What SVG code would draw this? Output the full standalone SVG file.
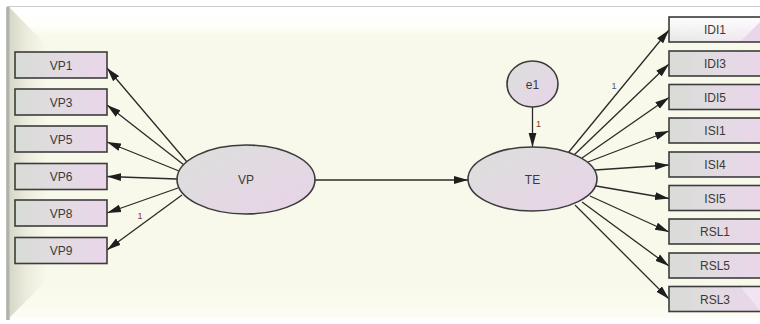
<svg xmlns="http://www.w3.org/2000/svg" width="760" height="324" viewBox="0 0 760 324">
  <defs>
    <linearGradient id="boxFill" x1="0" y1="0" x2="1" y2="0">
      <stop offset="0" stop-color="#d8dcd6"/>
      <stop offset="0.5" stop-color="#e2dbe2"/>
      <stop offset="1" stop-color="#ead6ea"/>
    </linearGradient>
    <linearGradient id="ovalFill" x1="0" y1="0" x2="1" y2="1">
      <stop offset="0" stop-color="#dcdfdb"/>
      <stop offset="0.55" stop-color="#e3d9e3"/>
      <stop offset="1" stop-color="#e8d3e8"/>
    </linearGradient>
    <linearGradient id="bevelTop" x1="0" y1="7" x2="0" y2="47" gradientUnits="userSpaceOnUse">
      <stop offset="0" stop-color="#ffffff"/>
      <stop offset="0.5" stop-color="#fefefa"/>
      <stop offset="0.72" stop-color="#f8f9eb"/>
      <stop offset="1" stop-color="#f8f9eb"/>
    </linearGradient>
    <linearGradient id="bevelLeft" x1="9" y1="0" x2="48" y2="0" gradientUnits="userSpaceOnUse">
      <stop offset="0" stop-color="#d6d6c6"/>
      <stop offset="0.45" stop-color="#ebecdd"/>
      <stop offset="1" stop-color="#f8f9eb"/>
    </linearGradient>
    <linearGradient id="bevelBottom" x1="0" y1="279" x2="0" y2="318" gradientUnits="userSpaceOnUse">
      <stop offset="0" stop-color="#f8f9eb"/>
      <stop offset="0.6" stop-color="#fafbee"/>
      <stop offset="1" stop-color="#fdfdf4"/>
    </linearGradient>
    <linearGradient id="edgeShade" x1="6" y1="0" x2="10" y2="0" gradientUnits="userSpaceOnUse">
      <stop offset="0" stop-color="#c4c4c0"/>
      <stop offset="0.5" stop-color="#a9a9a4"/>
      <stop offset="1" stop-color="#cfcfc6"/>
    </linearGradient>
    <linearGradient id="glossTop" x1="0" y1="17" x2="0" y2="42" gradientUnits="userSpaceOnUse">
      <stop offset="0" stop-color="#ffffff" stop-opacity="0.95"/>
      <stop offset="1" stop-color="#ffffff" stop-opacity="0.35"/>
    </linearGradient>
    <clipPath id="clipTopCorner">
      <polygon points="600,0 782,0 740,42 600,42"/>
    </clipPath>
    <marker id="head" markerUnits="userSpaceOnUse" markerWidth="15" markerHeight="9" refX="14" refY="4.5" orient="auto">
      <path d="M0,0.6 L14,4.5 L0,8.4 Z" fill="#1e1e1e"/>
    </marker>
    <style>
      .box { fill: url(#boxFill); stroke: #3c3c3c; stroke-width: 1.6; }
      .oval { fill: url(#ovalFill); stroke: #3c3c3c; stroke-width: 1.6; }
      .lbl { font-family: "Liberation Sans", Arial, sans-serif; font-size: 12px; fill: #3a3a3a; text-anchor: middle; }
      .wt { font-family: "Liberation Sans", Arial, sans-serif; font-size: 9px; text-anchor: middle; }
      .edge { fill: none; stroke: #2a2a2a; stroke-width: 1.3; marker-end: url(#head); }
    </style>
  </defs>

  <!-- frame and bevelled panel -->
  <rect x="0" y="0" width="760" height="324" fill="#ffffff"/>
  <rect x="8" y="7" width="752" height="311" fill="#f8f9eb"/>
  <polygon points="9,7 775,7 735,47 48,47" fill="url(#bevelTop)"/>
  <polygon points="9,318 48,279 733,279 772,318" fill="url(#bevelBottom)"/>
  <polygon points="9,7 48,47 48,279 9,318" fill="url(#bevelLeft)"/>
  <line x1="7" y1="6.5" x2="760" y2="6.5" stroke="#cdcdcd" stroke-width="1"/>
  <rect x="6" y="7" width="4" height="313" fill="url(#edgeShade)"/>

  <!-- connectors -->
  <g id="connectors">
    <line class="edge" x1="187" y1="162" x2="107" y2="68"/>
    <line class="edge" x1="184" y1="165" x2="107" y2="105"/>
    <line class="edge" x1="179" y1="171" x2="107" y2="142"/>
    <line class="edge" x1="177" y1="179" x2="107" y2="176.5"/>
    <line class="edge" x1="178" y1="188" x2="107" y2="213"/>
    <line class="edge" x1="182" y1="195" x2="107" y2="250"/>
    <line class="edge" x1="315" y1="180" x2="468" y2="180"/>
    <line class="edge" x1="532.5" y1="107" x2="532.5" y2="147"/>
    <line class="edge" x1="568" y1="153" x2="669" y2="30"/>
    <line class="edge" x1="574" y1="155" x2="669" y2="64"/>
    <line class="edge" x1="582" y1="158" x2="669" y2="97.5"/>
    <line class="edge" x1="588" y1="162" x2="669" y2="131"/>
    <line class="edge" x1="595" y1="170" x2="669" y2="165"/>
    <line class="edge" x1="596" y1="186" x2="669" y2="198.5"/>
    <line class="edge" x1="590" y1="196" x2="669" y2="232"/>
    <line class="edge" x1="582" y1="202" x2="669" y2="266"/>
    <line class="edge" x1="575" y1="205" x2="669" y2="299"/>
    <text class="wt" x="140" y="218.5" fill="#7a3838">1</text>
    <text class="wt" x="538.5" y="126.5" fill="#7a3838">1</text>
    <text class="wt" x="614" y="88.5" fill="#4a5578">1</text>
  </g>

  <!-- latent variables -->
  <g id="VP">
    <ellipse class="oval" cx="246" cy="179.5" rx="69" ry="34.5"/>
    <text class="lbl" x="246" y="184">VP</text>
  </g>
  <g id="TE">
    <ellipse class="oval" cx="532.5" cy="179" rx="64.5" ry="32"/>
    <text class="lbl" x="532.5" y="183.5">TE</text>
  </g>
  <g id="e1">
    <ellipse class="oval" cx="532.5" cy="84" rx="25.5" ry="23"/>
    <text class="lbl" x="532.5" y="88.5">e1</text>
  </g>

  <!-- observed indicators of VP -->
  <g id="VP1"><rect class="box" x="15" y="52" width="92" height="26"/><text class="lbl" x="61" y="69.5">VP1</text></g>
  <g id="VP3"><rect class="box" x="15" y="89" width="92" height="26"/><text class="lbl" x="61" y="106.5">VP3</text></g>
  <g id="VP5"><rect class="box" x="15" y="126" width="92" height="26"/><text class="lbl" x="61" y="143.5">VP5</text></g>
  <g id="VP6"><rect class="box" x="15" y="163.5" width="92" height="26"/><text class="lbl" x="61" y="181">VP6</text></g>
  <g id="VP8"><rect class="box" x="15" y="200" width="92" height="26"/><text class="lbl" x="61" y="217.5">VP8</text></g>
  <g id="VP9"><rect class="box" x="15" y="237.5" width="92" height="26"/><text class="lbl" x="61" y="255">VP9</text></g>

  <!-- observed indicators of TE -->
  <g id="IDI1">
    <rect class="box" x="669" y="17" width="92" height="25"/>
    <rect x="670" y="18" width="90" height="23" fill="url(#glossTop)" clip-path="url(#clipTopCorner)"/>
    <text class="lbl" x="715" y="34">IDI1</text>
  </g>
  <g id="IDI3"><rect class="box" x="669" y="51" width="92" height="25"/><text class="lbl" x="715" y="68">IDI3</text></g>
  <g id="IDI5"><rect class="box" x="669" y="84.5" width="92" height="25"/><text class="lbl" x="715" y="101.5">IDI5</text></g>
  <g id="ISI1"><rect class="box" x="669" y="118" width="92" height="25"/><text class="lbl" x="715" y="135">ISI1</text></g>
  <g id="ISI4"><rect class="box" x="669" y="152" width="92" height="25"/><text class="lbl" x="715" y="169">ISI4</text></g>
  <g id="ISI5"><rect class="box" x="669" y="185.5" width="92" height="25"/><text class="lbl" x="715" y="202.5">ISI5</text></g>
  <g id="RSL1"><rect class="box" x="669" y="219" width="92" height="25"/><text class="lbl" x="715" y="236">RSL1</text></g>
  <g id="RSL5"><rect class="box" x="669" y="253" width="92" height="25"/><text class="lbl" x="715" y="270">RSL5</text></g>
  <g id="RSL3">
    <rect class="box" x="669" y="286.5" width="92" height="25"/>
    <polygon points="741,287.5 760,287.5 760,310.5" fill="#ffffff" fill-opacity="0.35"/>
    <text class="lbl" x="715" y="303.5">RSL3</text>
  </g>
</svg>
